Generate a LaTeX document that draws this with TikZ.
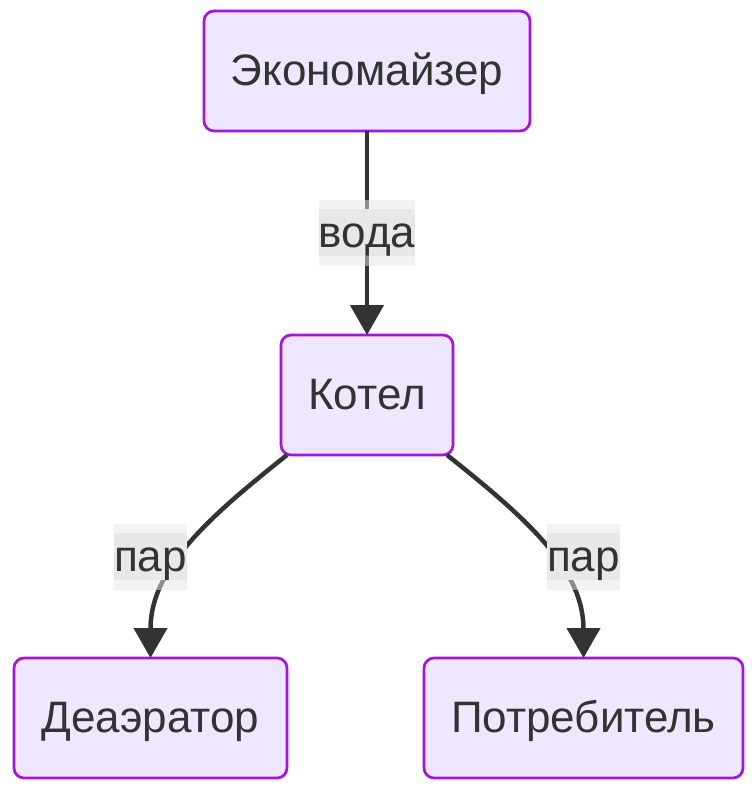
\documentclass[tikz,border=0pt]{standalone}
\usepackage{fontspec}
\setmainfont{Liberation Sans}
\usetikzlibrary{arrows.meta}
\definecolor{nfill}{HTML}{EEE7FF}
\definecolor{nstroke}{HTML}{A414DC}
\definecolor{ink}{HTML}{333333}
\definecolor{lblbg}{HTML}{E8E8E8}
\begin{document}
\begin{tikzpicture}[x=1pt,y=-1pt,
  txt/.style={font=\fontsize{44}{50}\selectfont, text height=29pt, text depth=0pt},
  box/.style={txt, draw=nstroke, line width=2.7pt, fill=nfill, rounded corners=10pt, text=ink, minimum height=120pt, inner sep=0pt, outer sep=0pt},
  edge/.style={draw=ink, line width=4.5pt, -{Triangle[length=30pt,width=33pt]}},
  lblout/.style={txt, fill=lblbg, fill opacity=0.5, inner xsep=0pt, inner ysep=0pt, minimum height=66pt},
  lblin/.style={txt, fill=lblbg, text=ink, inner xsep=0pt, inner ysep=0pt, minimum height=47pt}
]
\useasboundingbox (0,0) rectangle (752,793);
\node[box, minimum width=326pt] (econ) at (367,71) {Экономайзер};
\node[box, minimum width=172pt] (kotel) at (367,395) {Котел};
\node[box, minimum width=273pt] (deaer) at (150.5,718) {Деаэратор};
\node[box, minimum width=319pt] (potr) at (583.5,718) {Потребитель};

\draw[edge] (econ.south) -- (kotel.north);
\draw[edge] ([xshift=6pt]kotel.south west) .. controls (205,520) and (150.5,570) .. (deaer.north);
\draw[edge] ([xshift=-6pt]kotel.south east) .. controls (529,520) and (583.5,570) .. (potr.north);

\node[lblout] (l1o) at (367,232.5) {\phantom{вода}};
\node[lblin] (l1) at (l1o) {вода};
\node[lblout] (l2o) at (150.5,556.5) {\phantom{пар}};
\node[lblin] (l2) at (l2o) {пар};
\node[lblout] (l3o) at (583.5,556.5) {\phantom{пар}};
\node[lblin] (l3) at (l3o) {пар};
\end{tikzpicture}
\end{document}
